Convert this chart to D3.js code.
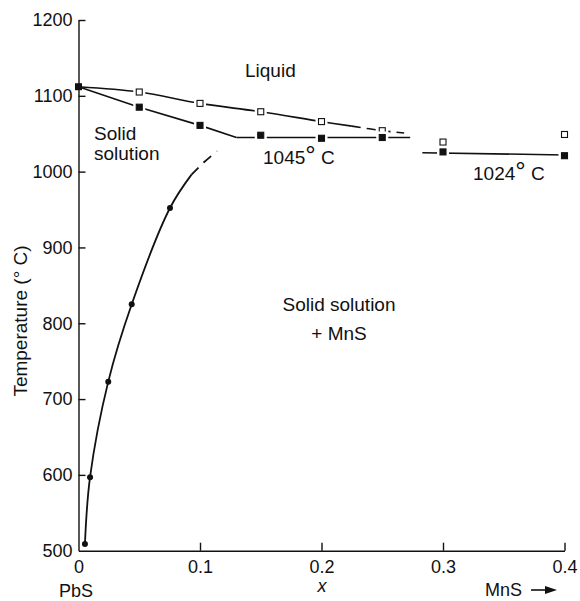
<!DOCTYPE html>
<html><head><meta charset="utf-8">
<script src="https://cdn.jsdelivr.net/npm/d3@7"></script>
<style>
body{margin:0;background:#fff;}
svg text{font-family:"Liberation Sans",Arial,sans-serif;fill:#111;}
</style></head>
<body><svg id="c" width="580" height="601"></svg>
<script>
// ---- data ----
const xTicks = [0, 0.1, 0.2, 0.3, 0.4];
const xTickLabels = ["0", "0.1", "0.2", "0.3", "0.4"];
const yTicks = [500, 600, 700, 800, 900, 1000, 1100, 1200];

// liquidus (open squares)
const liqX = [0.05, 0.1, 0.15, 0.2, 0.25, 0.3, 0.4];
const liqT = [1105, 1090, 1079, 1066, 1054, 1039, 1049];
// solidus (filled squares)
const solX = [0.05, 0.1, 0.15, 0.2, 0.25, 0.3, 0.4];
const solT = [1085, 1061, 1048, 1044, 1045, 1026, 1021];
// melting point of PbS
const pbsX = [0];
const pbsT = [1112];
// solvus (filled circles)
const solvX = [0.0053, 0.0095, 0.0245, 0.0438, 0.0753];
const solvT = [509, 597, 723, 825, 952];

// drawn curves
const liqLineX = [0, 0.05, 0.1, 0.15, 0.2, 0.225];
const liqLineT = [1112, 1105, 1090, 1079, 1066, 1060];
const liqDashX = [0.225, 0.25, 0.268];
const liqDashT = [1060, 1054, 1051];
const solLineX = [0, 0.05, 0.1, 0.13];
const solLineT = [1112, 1085, 1061, 1045];
const tie1045X = [0.13, 0.273];
const tie1045T = [1045, 1045];
const tie1024X = [0.283, 0.4];
const tie1024T = [1025, 1022];
const solvLineX = [0.0053, 0.0095, 0.0245, 0.0438, 0.0753, 0.093];
const solvLineT = [509, 597, 723, 825, 952, 996];
const solvDashX = [0.093, 0.103, 0.114];
const solvDashT = [996, 1012, 1027];

// ---- drawing ----
const svg = d3.select("#c");
const x = d3.scaleLinear().domain([0, 0.4]).range([78.5, 564.5]);
const y = d3.scaleLinear().domain([500, 1200]).range([550.7, 20]);

const gx = svg.append("g").attr("transform", `translate(0,${y(500)})`)
  .call(d3.axisBottom(x).tickValues(xTicks).tickFormat((d, i) => xTickLabels[i])
    .tickSizeInner(-8).tickSizeOuter(0).tickPadding(10));
const gy = svg.append("g").attr("transform", `translate(${x(0)},0)`)
  .call(d3.axisLeft(y).tickValues(yTicks).tickFormat(d3.format("d"))
    .tickSizeInner(-7).tickSizeOuter(0).tickPadding(6));
[gx, gy].forEach(g => {
  g.selectAll("path,line").attr("stroke", "#111").attr("stroke-width", 1.4);
  g.selectAll("text").attr("font-size", 18).attr("fill", "#111")
    .attr("font-family", "Liberation Sans, Arial, sans-serif");
});
gy.select(".tick:first-of-type line").remove();
gx.select(".tick:first-of-type line").remove();

const zip = (xs, ts) => xs.map((v, i) => [v, ts[i]]);
const lineStraight = d3.line().x(d => x(d[0])).y(d => y(d[1]));
const lineCurve = d3.line().x(d => x(d[0])).y(d => y(d[1])).curve(d3.curveCatmullRom.alpha(0.5));

function path(data, gen, dash, w) {
  svg.append("path").attr("d", gen(data)).attr("fill", "none")
    .attr("stroke", "#111").attr("stroke-width", w || 1.6)
    .attr("stroke-dasharray", dash || null);
}
path(zip(liqLineX, liqLineT), lineCurve);
path(zip(liqDashX, liqDashT), lineCurve, "9,6");
path(zip(solLineX, solLineT), lineStraight);
path(zip(tie1045X, tie1045T), lineStraight);
path(zip(tie1024X, tie1024T), lineStraight);
path(zip(solvLineX, solvLineT), lineCurve, null, 1.8);
path(zip(solvDashX, solvDashT), lineCurve, "10,7", 1.8);

// markers with white halo (gap in lines)
function squares(xs, ts, filled, s) {
  const g = svg.append("g");
  const pts = zip(xs, ts);
  g.selectAll("rect.h").data(pts).join("rect")
    .attr("x", d => x(d[0]) - s / 2 - 3).attr("y", d => y(d[1]) - s / 2 - 3)
    .attr("width", s + 6).attr("height", s + 6).attr("fill", "#fff");
  g.selectAll("rect.m").data(pts).join("rect")
    .attr("x", d => x(d[0]) - s / 2).attr("y", d => y(d[1]) - s / 2)
    .attr("width", s).attr("height", s)
    .attr("fill", filled ? "#111" : "#fff").attr("stroke", "#111").attr("stroke-width", 1.1);
}
squares(liqX, liqT, false, 6);
squares(solX, solT, true, 6);
svg.selectAll("rect.pbs").data(zip(pbsX, pbsT)).join("rect")
  .attr("x", d => x(d[0]) - 3.5).attr("y", d => y(d[1]) - 3.5)
  .attr("width", 7).attr("height", 7).attr("fill", "#111");
svg.append("g").selectAll("circle").data(zip(solvX, solvT)).join("circle")
  .attr("cx", d => x(d[0])).attr("cy", d => y(d[1])).attr("r", 3).attr("fill", "#111");

// ---- labels ----
function label(tx, ty, str, size, anchor) {
  return svg.append("text").attr("x", tx).attr("y", ty).attr("font-size", size || 19)
    .attr("text-anchor", anchor || "start").text(str);
}
label(245, 77, "Liquid");
label(94, 140, "Solid");
label(94, 160, "solution");
label(339, 311, "Solid solution", 19, "middle");
label(339, 340, "+ MnS", 19, "middle");

function degLabel(tx, ty, num) {
  const t = svg.append("text").attr("x", tx).attr("y", ty).attr("font-size", 19);
  t.append("tspan").text(num);
  t.append("tspan").attr("font-size", 26).text("°");
  t.append("tspan").text(" C");
}
degLabel(263, 164, "1045");
degLabel(473, 180, "1024");

// axis titles
const yt = svg.append("text").attr("transform", `translate(27,321) rotate(-90)`)
  .attr("text-anchor", "middle").attr("font-size", 19);
yt.append("tspan").text("Temperature (");
yt.append("tspan").text("° C)");

label(76, 597, "PbS", 18, "middle");
svg.append("text").attr("x", 322).attr("y", 592).attr("font-size", 18)
  .attr("font-style", "italic").attr("text-anchor", "middle").text("x");
label(485, 596, "MnS", 18, "start");
// arrow after MnS
svg.append("line").attr("x1", 531).attr("y1", 590).attr("x2", 552).attr("y2", 590)
  .attr("stroke", "#111").attr("stroke-width", 1.6);
svg.append("path").attr("d", "M545,586 L557,590 L545,594 Z").attr("fill", "#111");
</script>
</body></html>
